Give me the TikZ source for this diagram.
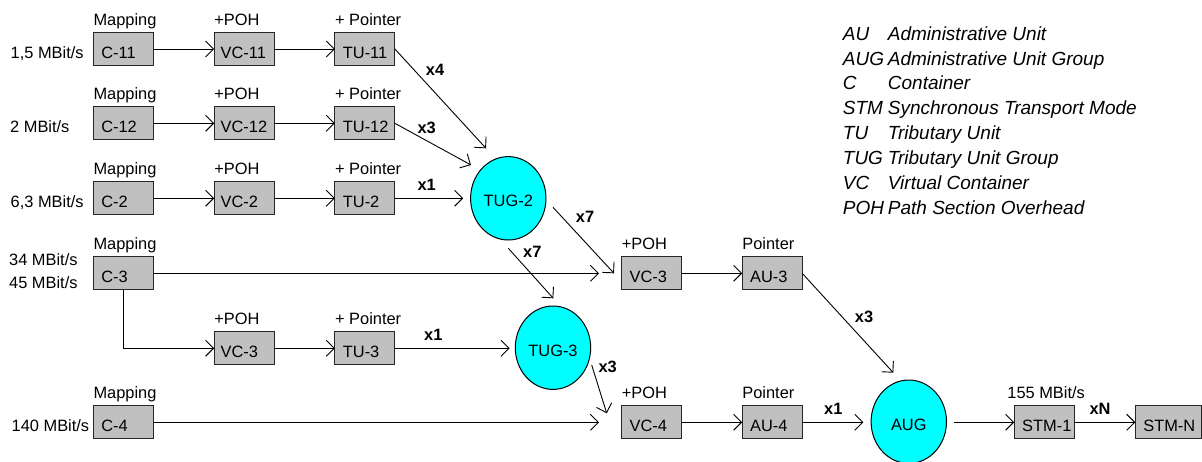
\documentclass[tikz,border=0pt]{standalone}
\usepackage{fontspec}
\setmainfont{Liberation Sans}
\usetikzlibrary{arrows.meta,calc,shapes.geometric}
\definecolor{boxgray}{HTML}{C0C0C0}
\definecolor{tugcyan}{HTML}{00FFFF}
\newcommand\blknobreak{\exhyphenpenalty=10000\relax\hyphenpenalty=10000\relax\hbadness=10000\relax\hfuzz=50pt\relax}
\begin{document}
\begin{tikzpicture}[x=1pt,y=-1pt,
  every node/.style={font=\fontsize{16.4}{19}\selectfont},
  blk/.style={draw=black!85, fill=boxgray, line width=1.1pt, text width=#1, align=left,
    font=\fontsize{16.4}{19}\selectfont\blknobreak,
    inner xsep=8pt, inner ysep=0pt, text height=25.8pt, text depth=7.2pt, outer sep=0pt},
  blk/.default=44pt,
  grp/.style={ellipse, draw, fill=tugcyan, line width=1pt, minimum width=75.4pt,
    minimum height=83.4pt, inner sep=0pt, text height=16.8pt, text depth=0pt, outer sep=0pt},
  arr/.style={-{Straight Barb[length=8pt,width=16pt]}, line width=0.9pt},
  lbl/.style={anchor=base west, inner sep=0pt},
  mul/.style={font=\fontsize{16.4}{19}\selectfont\bfseries, inner sep=0pt},
  leg/.style={anchor=base west, inner sep=0pt, font=\fontsize{19}{22}\selectfont\itshape},
]
\useasboundingbox (0,0) rectangle (1202,461);

% boxes
\node[blk] (c11)  at (123.3,49) {C-11};
\node[blk] (vc11) at (244.2,49) {\hspace*{-1.5pt}VC-11};
\node[blk] (tu11) at (364.9,49) {TU-11};
\node[blk] (c12)  at (123.3,123.3) {C-12};
\node[blk] (vc12) at (244.2,123.3) {\hspace*{-1.5pt}VC-12};
\node[blk] (tu12) at (364.9,123.3) {TU-12};
\node[blk] (c2)   at (123.3,198.3) {C-2};
\node[blk] (vc2)  at (244.2,198.3) {\hspace*{-1.5pt}VC-2};
\node[blk] (tu2)  at (364.9,198.3) {TU-2};
\node[blk] (c3)   at (123.3,273.3) {C-3};
\node[blk] (vc3b) at (244.2,348.3) {\hspace*{-1.5pt}VC-3};
\node[blk] (tu3)  at (364.9,348.3) {TU-3};
\node[blk] (c4)   at (123.3,422.3) {C-4};
\node[blk] (vc3a) at (651.7,273.3) {VC-3};
\node[blk] (au3)  at (772.2,273.3) {AU-3};
\node[blk] (vc4)  at (651.7,422.3) {VC-4};
\node[blk] (au4)  at (772.2,422.3) {AU-4};
\node[blk] (stm1) at (1044.2,422.3) {STM-1};
\node[blk=50pt] (stmn) at (1168.3,422.3) {STM-N};

% groups
\node[grp] (tug2) at (508.3,198.3) {TUG-2};
\node[grp] (tug3) at (553,347.7) {TUG-3};
\node[grp] (aug)  at (908.8,421.7) {AUG};

% labels above boxes
\node[lbl] (l1) at ([yshift=7pt]c11.north west) {Mapping};
\node[lbl] (l2) at ([yshift=7pt]vc11.north west) {+POH};
\node[lbl] (l3) at ([yshift=7pt]tu11.north west) {+ Pointer};
\node[lbl] (l4) at ([yshift=7pt]c12.north west) {Mapping};
\node[lbl] (l5) at ([yshift=7pt]vc12.north west) {+POH};
\node[lbl] (l6) at ([yshift=7pt]tu12.north west) {+ Pointer};
\node[lbl] (l7) at ([yshift=7pt]c2.north west) {Mapping};
\node[lbl] (l8) at ([yshift=7pt]vc2.north west) {+POH};
\node[lbl] (l9) at ([yshift=7pt]tu2.north west) {+ Pointer};
\node[lbl] (l10) at ([yshift=7pt]c3.north west) {Mapping};
\node[lbl] (l11) at ([yshift=7pt]vc3b.north west) {+POH};
\node[lbl] (l12) at ([yshift=7pt]tu3.north west) {+ Pointer};
\node[lbl] (l13) at ([yshift=7pt]c4.north west) {Mapping};
\node[lbl] (l14) at ([yshift=7pt]vc3a.north west) {+POH};
\node[lbl] (l15) at ([yshift=7pt]au3.north west) {Pointer};
\node[lbl] (l16) at ([yshift=7pt]vc4.north west) {+POH};
\node[lbl] (l17) at ([yshift=7pt]au4.north west) {Pointer};
\node[lbl] (l18) at ([shift={(-7pt,7.5pt)}]stm1.north west) {155 MBit/s};

% rates
\node[lbl] (r1) at (10.5,58.3) {1,5 MBit/s};
\node[lbl] (r2) at (10,132.6) {2 MBit/s};
\node[lbl] (r3) at (10.5,207.6) {6,3 MBit/s};
\node[lbl] (r4) at (9,265.8) {34 MBit/s};
\node[lbl] (r5) at (9,288.9) {45 MBit/s};
\node[lbl] (r6) at (11.5,431.6) {140 MBit/s};

% connectors
\draw[arr] (c11) -- (vc11);
\draw[arr] (vc11) -- (tu11);
\draw[arr] (c12) -- (vc12);
\draw[arr] (vc12) -- (tu12);
\draw[arr] (c2) -- (vc2);
\draw[arr] (vc2) -- (tu2);
\draw[arr] (tu11.east) -- ($(tug2.center)+(-22.3,-50)$);
\draw[arr] (tu12.east) -- ($(tug2.center)+(-37.3,-33.3)$);
\draw[arr, shorten >=7.4pt] (tu2.east) -- (tu2.east -| tug2.west);
\draw[arr, shorten >=22.7pt] (c3) -- (vc3a);
\draw[arr] ($(tug2.center)+(44.7,9)$) -- ($(vc3a.west)+(-7.7,0)$);
\draw[arr] ($(tug2.south)+(0,8.3)$) -- ($(tug3.north)+(0.3,-7.7)$);
\draw[arr] (c3.south) |- (vc3b.west);
\draw[arr] (vc3b) -- (tu3);
\draw[arr, shorten >=5.7pt] (tu3.east) -- (tu3.east -| tug3.west);
\draw[arr, shorten >=22.7pt] (c4) -- (vc4);
\draw[arr] ($(tug3.center)+(38.7,17.3)$) -- ($(vc4.west)+(-15,-9)$);
\draw[arr] (vc3a) -- (au3);
\draw[arr] (vc4) -- (au4);
\draw[arr] (au3.east) -- ($(aug.center)+(-15.5,-49)$);
\draw[arr, shorten >=7.7pt] (au4.east) -- (au4.east -| aug.west);
\draw[arr, shorten <=7.6pt] (stm1.west -| aug.east) -- (stm1.west);
\draw[arr] (stm1) -- (stmn);

% multiplicities
\node[mul] (m1) at (435,69.5) {x4};
\node[mul] (m2) at (426.7,127.7) {x3};
\node[mul] (m3) at (426.7,185) {x1};
\node[mul] (m4) at (585,217.3) {x7};
\node[mul] (m5) at (532.3,251.7) {x7};
\node[mul] (m6) at (433.3,335) {x1};
\node[mul] (m7) at (607.7,367.3) {x3};
\node[mul] (m8) at (864,317) {x3};
\node[mul] (m9) at (833.3,409) {x1};
\node[mul] (m10) at (1100,409) {xN};

% legend
\node[leg] (a1) at (842.7,40.2) {AU};
\node[leg] (d1) at (887.7,40.2) {Administrative Unit};
\node[leg] (a2) at (842.7,65.0) {AUG};
\node[leg] (d2) at (887.7,65.0) {Administrative Unit Group};
\node[leg] (a3) at (842.7,89.9) {C};
\node[leg] (d3) at (887.7,89.9) {Container};
\node[leg] (a4) at (842.7,114.7) {STM};
\node[leg] (d4) at (887.7,114.7) {Synchronous Transport Mode};
\node[leg] (a5) at (842.7,139.6) {TU};
\node[leg] (d5) at (887.7,139.6) {Tributary Unit};
\node[leg] (a6) at (842.7,164.4) {TUG};
\node[leg] (d6) at (887.7,164.4) {Tributary Unit Group};
\node[leg] (a7) at (842.7,189.3) {VC};
\node[leg] (d7) at (887.7,189.3) {Virtual Container};
\node[leg] (a8) at (842.7,214.1) {POH};
\node[leg] (d8) at (887.7,214.1) {Path Section Overhead};
\end{tikzpicture}
\end{document}
